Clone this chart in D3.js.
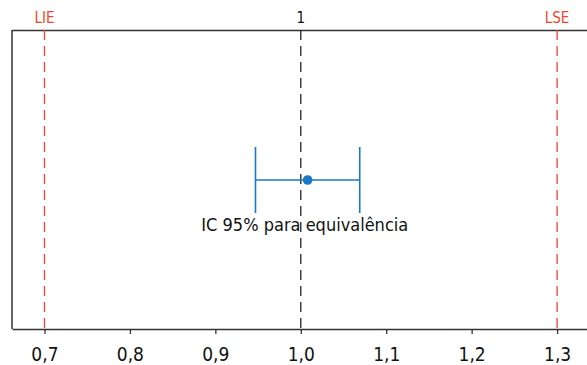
<!DOCTYPE html>
<html><head><meta charset="utf-8">
<script src="https://cdn.jsdelivr.net/npm/d3@7"></script>
<style>body{margin:0;background:#fff}svg{display:block}text{font-family:"DejaVu Sans Condensed","DejaVu Sans",sans-serif}</style>
</head><body>
<script>
const xTicks = [0.7, 0.8, 0.9, 1.0, 1.1, 1.2, 1.3];
const refLines = [
  {value: 0.7, label: "LIE", kind: "limit"},
  {value: 1.0, label: "1", kind: "target"},
  {value: 1.3, label: "LSE", kind: "limit"}
];
const estimate = [1.008];
const ciLower = [0.947];
const ciUpper = [1.069];
const ciLabel = ["IC 95% para equivalência"];

const W = 587, H = 365;
const FONT = "DejaVu Sans Condensed, DejaVu Sans, sans-serif";
const m = {left: 12, top: 30, bottom: 36};
const svg = d3.select("body").append("svg").attr("width", W).attr("height", H);
const x = d3.scaleLinear().domain([0.662, 1.335]).range([m.left, W]);
const yTop = m.top, yBot = H - m.bottom;

const RED = "#f0452b", BLUE = "#1a78c2";

// frame
svg.append("line").attr("x1", m.left).attr("x2", m.left).attr("y1", yTop).attr("y2", yBot).attr("stroke", "#333").attr("stroke-width", 1.5);
svg.append("line").attr("x1", m.left).attr("x2", W).attr("y1", yTop + 0.5).attr("y2", yTop + 0.5).attr("stroke", "#333").attr("stroke-width", 1.5);

// axis
const ax = svg.append("g").attr("transform", `translate(0,${yBot})`)
  .call(d3.axisBottom(x).tickValues(xTicks).tickSize(5).tickSizeOuter(0).tickPadding(14)
    .tickFormat(d => d3.format(".1f")(d).replace(".", ",")));
ax.select(".domain").attr("stroke", "#333").attr("stroke-width", 1.5);
ax.selectAll(".tick line").attr("stroke", "#333").attr("stroke-width", 1.3);
ax.selectAll("text").attr("font-size", 19).attr("fill", "#111").attr("font-family", FONT);

// ref lines
svg.selectAll(".ref").data(refLines).enter().append("line")
  .attr("x1", d => x(d.value)).attr("x2", d => x(d.value))
  .attr("y1", yTop).attr("y2", yBot)
  .attr("stroke", d => d.kind === "limit" ? RED : "#222")
  .attr("stroke-width", 1.3).attr("stroke-dasharray", "10,6");
svg.selectAll(".reflab").data(refLines).enter().append("text")
  .attr("x", d => x(d.value)).attr("y", 23).attr("text-anchor", "middle")
  .attr("font-size", 15).attr("font-family", FONT)
  .attr("fill", d => d.kind === "limit" ? RED : "#111")
  .text(d => d.label);

// CI
const yc = 180;
const g = svg.append("g");
g.append("line").attr("x1", x(ciLower[0])).attr("x2", x(ciUpper[0])).attr("y1", yc).attr("y2", yc).attr("stroke", BLUE).attr("stroke-width", 1.6);
[ciLower[0], ciUpper[0]].forEach(v => {
  g.append("line").attr("x1", x(v)).attr("x2", x(v)).attr("y1", 147).attr("y2", 213).attr("stroke", BLUE).attr("stroke-width", 1.6);
});
g.append("circle").attr("cx", x(estimate[0])).attr("cy", yc).attr("r", 4.8).attr("fill", BLUE);
svg.append("text").attr("x", x(1.0) + 4).attr("y", 231).attr("text-anchor", "middle").attr("font-size", 18).attr("font-family", FONT).attr("fill", "#111").text(ciLabel[0]);
</script>
</body></html>
